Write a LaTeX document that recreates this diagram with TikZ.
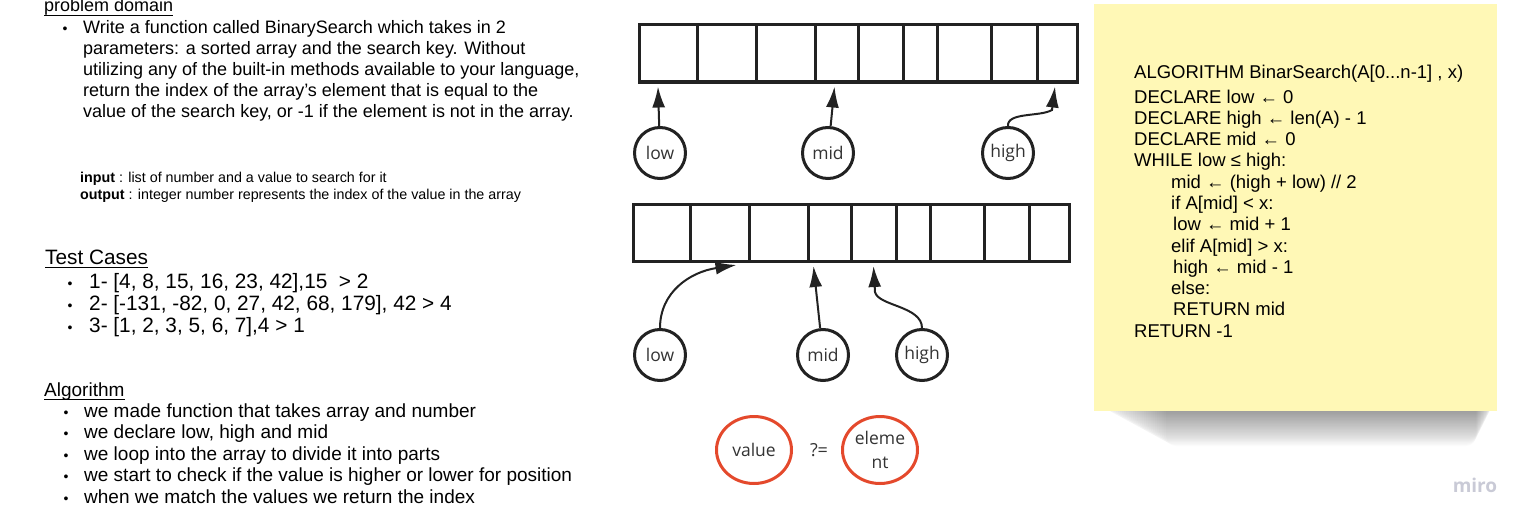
\documentclass[tikz,border=0pt]{standalone}
\usepackage{fontspec}
\setmainfont{Liberation Sans}
\newfontfamily\miro{Open Sans}
\usetikzlibrary{arrows.meta,shapes.geometric}

\definecolor{arr}{HTML}{222222}
\definecolor{txt}{HTML}{333333}
\definecolor{redc}{HTML}{E4492C}
\definecolor{note}{HTML}{FFF8B6}
\definecolor{miroc}{HTML}{C9CAD6}

\begin{document}
\begin{tikzpicture}[x=1pt,y=-1pt,
	cell/.style={rectangle,draw=arr,line width=3pt,minimum height=57pt,inner sep=0pt},
	var/.style={circle,draw=arr,line width=3pt,minimum size=51pt,inner sep=0pt,text=txt,font=\miro\fontsize{17.5}{17.5}\selectfont},
	cmp/.style={ellipse,draw=redc,line width=3pt,minimum width=75pt,minimum height=67pt,inner sep=0pt,text=txt,align=center,font=\miro\fontsize{17.5}{24}\selectfont},
	ptr/.style={-{Latex[length=21pt,width=13pt]},line width=2pt,draw=arr},
	body/.style={anchor=base west,inner sep=0pt,font=\fontsize{18}{21}\selectfont},
	big/.style={anchor=base west,inner sep=0pt,font=\fontsize{20.8}{22}\selectfont},
	list/.style={anchor=base west,inner sep=0pt,font=\fontsize{19}{21}\selectfont},
	small/.style={anchor=base west,inner sep=0pt,font=\fontsize{14.3}{16}\selectfont},
	dot/.style={anchor=base,inner sep=0pt,font=\fontsize{14}{14}\selectfont},
	code/.style={anchor=base west,inner sep=0pt,font=\fontsize{18.5}{21}\selectfont},
	uline/.style={line width=0.9pt}
	]
	\useasboundingbox (0,0) rectangle (1534,527);

	% left column
	\node[body] (pd) at (44,12) {problem domain};
	\draw[uline] ([yshift=-3pt]pd.base west) -- ([yshift=-3pt]pd.base east);
	\node[dot] (pdd) at (65,34) {\textbullet};
	\node[body,anchor=north west,align=left,yshift=14pt] (pdt) at (83,34) {Write a function called BinarySearch which takes in 2\\
		parameters: a sorted array and the search key. Without\\
		utilizing any of the built-in methods available to your language,\\
		return the index of the array's element that is equal to the\\
		value of the search key, or -1 if the element is not in the array.};
	\node[small] (inp) at (80,182.5) {\textbf{input} : list of number and a value to search for it};
	\node[small] (outp) at (80,199.5) {\textbf{output} : integer number represents the index of the value in the array};

	\node[big] (tc) at (45,264) {Test Cases};
	\draw[uline] ([yshift=-3pt]tc.base west) -- ([yshift=-3pt]tc.base east);
	\foreach \t [count=\i] in {{1- [4, 8, 15, 16, 23, 42],15 \ > 2},{2- [-131, -82, 0, 27, 42, 68, 179], 42 > 4},{3- [1, 2, 3, 5, 6, 7],4 > 1}}{
		\node[dot] (tcd\i) at (70,{266+22*\i}) {\textbullet};
		\node[big] (tc\i) at (89,{266+22*\i}) {\t};
	}

	\node[list] (al) at (44,396) {Algorithm\ };
	\draw[uline] ([yshift=-3pt]al.base west) -- ([yshift=-3pt]al.base east);
	\foreach \t [count=\i] in {we made function that takes array and number,we declare low{,} high and mid,we loop into the array to divide it into parts,we start to check if the value is higher or lower for position,when we match the values we return the index}{
		\node[dot] (ald\i) at (66,{395.5+21.5*\i}) {\textbullet};
		\node[list] (al\i) at (84,{395.5+21.5*\i}) {\t};
	}

	% top array
	\foreach \a/\b [count=\i] in {639/697,697/756,756/815,815/858,858/903,903/937,937/991,991/1037,1037/1077}
		\node[cell,minimum width={\b-\a}] (t\i) at ({(\a+\b)/2},53.5) {};
	\node[var] (lowA) at (660,153) {low};
	\node[var] (midA) at (828,153) {mid};
	\node[var] (highA) at (1008,153) {high};
	\coordinate (tlow) at ([xshift=-10pt,yshift=-3pt]t1.south);
	\coordinate (tmid) at ([xshift=-2pt,yshift=-3pt]t4.south);
	\coordinate (thigh) at ([xshift=-2pt,yshift=-3pt]t9.south);
	\draw[ptr] (lowA) -- (tlow);
	\draw[ptr] (midA) -- (tmid);
	\draw[ptr] (highA.north) .. controls (1007,112) and (1040,117) .. (1052,110) -- (thigh);

	% bottom array
	\foreach \a/\b [count=\i] in {633/690,690/749,749/808,808/851,851/896,896/930,930/984,984/1029,1029/1069}
		\node[cell,minimum width={\b-\a}] (b\i) at ({(\a+\b)/2},233) {};
	\node[var] (lowB) at (660,355) {low};
	\node[var] (midB) at (823,355) {mid};
	\node[var] (highB) at (922,355) {high};
	\coordinate (blow) at ([xshift=-14pt,yshift=-2pt]b2.south east);
	\coordinate (bmid) at ([xshift=7pt,yshift=-3pt]b4.south west);
	\coordinate (bhigh) at ([yshift=-3pt]b5.south);
	\draw[ptr] (lowB.north) .. controls (660,292) and (690,272) .. (blow);
	\draw[ptr] (midB) -- (bmid);
	\draw[ptr] (highB.north) .. controls (922,306) and (878,306) .. (875,292) -- (bhigh);

	% compare
	\node[cmp] (val) at (754,450) {value};
	\node[text=txt,font=\miro\fontsize{18}{18}\selectfont] (qeq) at (819,450) {?=};
	\node[cmp] (elem) at (880,450) {eleme\\nt};

	% sticky note
	\foreach \k in {1,...,30}
		\fill[black,opacity=0.016,rounded corners=10pt] ({1100+2.2*\k},400) rectangle ({1494-0.6*\k},{410+1.2*\k});
	\fill[note] (1094,4) rectangle (1497,411);
	\node[code] (c0) at (1134,78) {ALGORITHM BinarSearch(A[0...n-1] , x)};
	\node[code] (c1) at (1134,103) {DECLARE low ← 0};
	\node[code] (c2) at (1134,124) {DECLARE high ← len(A) - 1};
	\node[code] (c3) at (1134,145) {DECLARE mid ← 0};
	\node[code] (c4) at (1134,166) {WHILE low ≤ high:};
	\node[code] (c5) at (1171,188) {mid ← (high + low) // 2};
	\node[code] (c6) at (1171,209) {if A[mid] < x:};
	\node[code] (c7) at (1173,230) {low ← mid + 1};
	\node[code] (c8) at (1171,252) {elif A[mid] > x:};
	\node[code] (c9) at (1173,273) {high ← mid - 1};
	\node[code] (c10) at (1171,294) {else:};
	\node[code] (c11) at (1173,315) {RETURN mid};
	\node[code] (c12) at (1134,337) {RETURN -1};
	\node[text=miroc,font=\miro\bfseries\fontsize{19}{19}\selectfont] (logo) at (1475,485) {miro};
\end{tikzpicture}
\end{document}
